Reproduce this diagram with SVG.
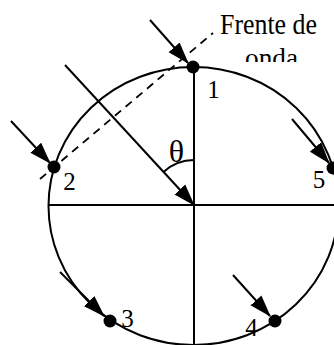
<svg xmlns="http://www.w3.org/2000/svg" width="334" height="345" viewBox="0 0 334 345">
<style>
.ln{stroke:#000;stroke-width:2;fill:none}
.ar{stroke:#000;stroke-width:2;fill:none;marker-end:url(#ah)}
.dash{stroke:#000;stroke-width:1.8;fill:none;stroke-dasharray:8,6}
.dot{fill:#000}
.t{font-family:"Liberation Serif","Times New Roman",serif;fill:#000}
</style>
<defs>
<marker id="ah" markerUnits="userSpaceOnUse" markerWidth="22" markerHeight="16" viewBox="0 0 21 14" refX="20" refY="7" orient="auto">
<path d="M0,0 L21,7 L0,14 z" fill="#000"/>
</marker>
<clipPath id="cl"><rect x="200" y="0" width="134" height="62"/></clipPath>
</defs>
<rect width="334" height="345" fill="#fff"/>
<g id="circle">
<ellipse class="ln" cx="193.5" cy="206" rx="145" ry="139"/>
<line class="ln" x1="48.5" y1="205" x2="334" y2="205"/>
<line class="ln" x1="194" y1="67" x2="194" y2="345"/>
<path class="ln" d="M194,160 A45,45 0 0 0 163.5,172"/>
<text class="t" x="176.5" y="162" font-size="32" text-anchor="middle">θ</text>
</g>
<g id="wavefront">
<line class="dash" x1="40" y1="179" x2="213" y2="33"/>
<g clip-path="url(#cl)">
<text class="t" x="220" y="34" font-size="29" textLength="97" lengthAdjust="spacingAndGlyphs">Frente de</text>
<text class="t" x="245" y="66.5" font-size="28" textLength="53" lengthAdjust="spacingAndGlyphs">onda</text>
</g>
</g>
<g id="connectors">
<line class="ar" x1="65" y1="65" x2="194" y2="205"/>
<line class="ar" x1="150" y1="20" x2="188" y2="63"/>
<line class="ar" x1="11" y1="121" x2="50" y2="163"/>
<line class="ar" x1="292" y1="119" x2="329" y2="163"/>
<line class="ar" x1="60" y1="272" x2="104" y2="316"/>
<line class="ar" x1="233" y1="275" x2="270" y2="316"/>
</g>
<g id="p1"><circle class="dot" cx="193" cy="67" r="6.5"/><text class="t" x="213.5" y="98" font-size="25" text-anchor="middle">1</text></g>
<g id="p2"><circle class="dot" cx="54" cy="167" r="6.5"/><text class="t" x="69.5" y="190" font-size="25" text-anchor="middle">2</text></g>
<g id="p3"><circle class="dot" cx="110" cy="321" r="6.5"/><text class="t" x="127.5" y="327" font-size="25" text-anchor="middle">3</text></g>
<g id="p4"><circle class="dot" cx="275" cy="321" r="6.5"/><text class="t" x="251.5" y="336" font-size="25" text-anchor="middle">4</text></g>
<g id="p5"><circle class="dot" cx="333" cy="168" r="6.5"/><text class="t" x="319" y="188" font-size="25" text-anchor="middle">5</text></g>
</svg>
